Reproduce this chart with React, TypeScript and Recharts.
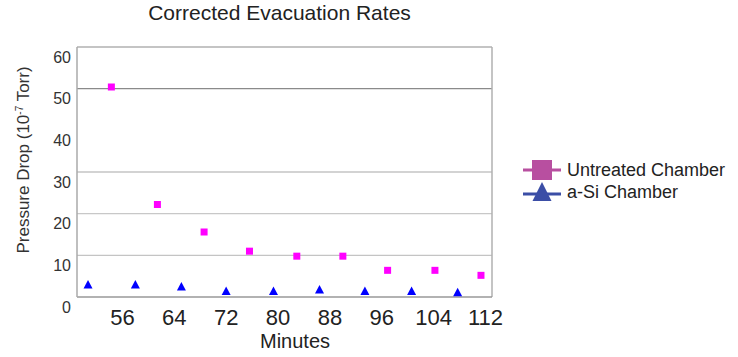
import React from "react";
import {
  ScatterChart,
  Scatter,
  XAxis,
  YAxis,
  ReferenceLine,
} from "recharts";

// Minutes (x) and pressure drop (y, 10^-7 Torr)
const untreatedMinutes = [54.3, 61.4, 68.6, 75.6, 82.9, 90.0, 96.9, 104.2, 111.3];
const untreatedValues = [50.4, 22.2, 15.6, 11.0, 9.8, 9.8, 6.4, 6.4, 5.2];
const aSiMinutes = [50.7, 58.0, 65.1, 72.0, 79.3, 86.4, 93.4, 100.6, 107.7];
const aSiValues = [2.9, 2.9, 2.4, 1.3, 1.3, 1.7, 1.3, 1.3, 1.0];
const xTicks = [56, 64, 72, 80, 88, 96, 104, 112];
const yTicks = [0, 10, 20, 30, 40, 50, 60];

const untreatedData = untreatedMinutes.map((x, i) => ({ x, y: untreatedValues[i] }));
const aSiData = aSiMinutes.map((x, i) => ({ x, y: aSiValues[i] }));

const FONT = "'Liberation Sans', Arial, sans-serif";

const SquareDot = (props: any) => {
  const { cx, cy } = props;
  if (cx == null || cy == null) return null;
  return <rect x={cx - 3.5} y={cy - 3.5} width={7} height={7} fill="#ff00ff" />;
};

const TriangleDot = (props: any) => {
  const { cx, cy } = props;
  if (cx == null || cy == null) return null;
  return (
    <polygon
      points={`${cx},${cy - 5} ${cx + 4.5},${cy + 3.5} ${cx - 4.5},${cy + 3.5}`}
      fill="#0000ff"
    />
  );
};

const YTick = (props: any) => {
  const { x, y, payload } = props;
  return (
    <text
      x={x}
      y={y + 10}
      textAnchor="end"
      dominantBaseline="central"
      fontSize={16}
      fontFamily={FONT}
      fill="#333"
    >
      {payload.value}
    </text>
  );
};

const XTick = (props: any) => {
  const { x, y, payload } = props;
  return (
    <text
      x={x}
      y={y}
      textAnchor="middle"
      dominantBaseline="central"
      fontSize={22}
      fontFamily={FONT}
      fill="#222"
    >
      {payload.value}
    </text>
  );
};

export default function App() {
  return (
    <div
      style={{
        position: "absolute",
        left: 0,
        top: 0,
        width: 738,
        height: 357,
        background: "#fff",
        fontFamily: FONT,
      }}
    >
      <div
        style={{
          position: "absolute",
          left: 0,
          width: 559,
          top: 1,
          textAlign: "center",
          fontSize: 21,
          color: "#222",
          lineHeight: "24px",
        }}
      >
        Corrected Evacuation Rates
      </div>
      <div
        style={{
          position: "absolute",
          left: 24,
          top: 160,
          transform: "translate(-50%, -50%) rotate(-90deg)",
          whiteSpace: "nowrap",
          fontSize: 17,
          color: "#333",
        }}
      >
        Pressure Drop (10<sup style={{ fontSize: 10 }}>-7</sup> Torr)
      </div>
      <div
        style={{
          position: "absolute",
          left: 195,
          width: 200,
          top: 329,
          textAlign: "center",
          fontSize: 20,
          color: "#222",
          lineHeight: "24px",
        }}
      >
        Minutes
      </div>
      <ScatterChart
        width={738}
        height={357}
        margin={{ top: 47, right: 246, bottom: 20, left: 32 }}
        style={{ position: "absolute", left: 0, top: 0 }}
      >
        <XAxis
          type="number"
          dataKey="x"
          domain={[49, 113]}
          ticks={xTicks}
          height={40}
          axisLine={{ stroke: "#999", strokeWidth: 1.5 }}
          tickLine={false}
          tick={<XTick />}
          tickMargin={14}
          allowDataOverflow
        />
        <YAxis
          type="number"
          dataKey="y"
          domain={[0, 60]}
          ticks={yTicks}
          width={45}
          axisLine={{ stroke: "#aaa", strokeWidth: 1.5 }}
          tickLine={false}
          tick={<YTick />}
          tickMargin={0}
        />
        <ReferenceLine y={10} stroke="#c4c4c4" strokeWidth={1.2} />
        <ReferenceLine y={20} stroke="#c8c8c8" strokeWidth={1.2} />
        <ReferenceLine y={30} stroke="#a8a8a8" strokeWidth={1.2} />
        <ReferenceLine y={50} stroke="#8a8a8a" strokeWidth={1.4} />
        <ReferenceLine y={60} stroke="#b0b0b0" strokeWidth={1.5} />
        <ReferenceLine x={113} stroke="#b0b0b0" strokeWidth={1.5} />
        <Scatter
          name="a-Si Chamber"
          data={aSiData}
          shape={<TriangleDot />}
          isAnimationActive={false}
        />
        <Scatter
          name="Untreated Chamber"
          data={untreatedData}
          shape={<SquareDot />}
          isAnimationActive={false}
        />
      </ScatterChart>
      <div style={{ position: "absolute", left: 522, top: 159 }}>
        <div style={{ display: "flex", alignItems: "center", height: 22 }}>
          <svg width={40} height={22}>
            <line x1={1} y1={11} x2={39} y2={11} stroke="#b84fa0" strokeWidth={3} />
            <rect x={10} y={1} width={20} height={20} fill="#b84fa0" />
          </svg>
          <span style={{ marginLeft: 5, fontSize: 18, color: "#222" }}>Untreated Chamber</span>
        </div>
        <div style={{ display: "flex", alignItems: "center", height: 22 }}>
          <svg width={40} height={22}>
            <line x1={1} y1={13} x2={39} y2={13} stroke="#3b4ea6" strokeWidth={3} />
            <polygon points="20,1 29.5,20 10.5,20" fill="#3b4ea6" />
          </svg>
          <span style={{ marginLeft: 5, fontSize: 18, color: "#222" }}>a-Si Chamber</span>
        </div>
      </div>
    </div>
  );
}
